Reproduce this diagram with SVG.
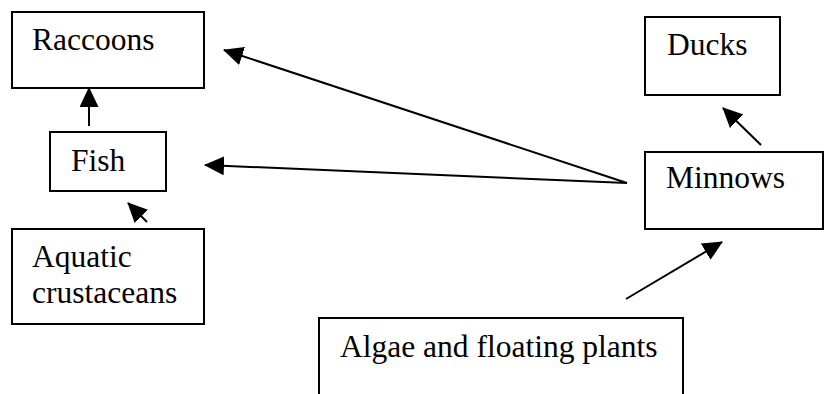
<svg xmlns="http://www.w3.org/2000/svg" width="828" height="394" viewBox="0 0 828 394">
<style>
.box{fill:#fff;stroke:#000;stroke-width:2}
.lbl{font-family:"Liberation Serif","Times New Roman",serif;font-size:31.5px;fill:#000}
.edge{stroke:#000;stroke-width:2;fill:none;marker-end:url(#ah)}
</style>
<defs>
<marker id="ah" markerUnits="userSpaceOnUse" markerWidth="20" markerHeight="19" refX="19" refY="9.5" orient="auto" viewBox="0 0 20 19">
<path d="M0,0 L20,9.5 L0,19 z" fill="#000"/>
</marker>
</defs>
<rect width="828" height="394" fill="#fff"/>
<g id="raccoons"><rect class="box" x="12" y="12" width="192" height="76"/><text class="lbl" x="32" y="50">Raccoons</text></g>
<g id="fish"><rect class="box" x="50" y="132" width="116" height="59"/><text class="lbl" x="71" y="171">Fish</text></g>
<g id="crustaceans"><rect class="box" x="12" y="229" width="192" height="95"/><text class="lbl" x="32" y="267">Aquatic</text><text class="lbl" x="32" y="303">crustaceans</text></g>
<g id="ducks"><rect class="box" x="645" y="17" width="135" height="78"/><text class="lbl" x="667" y="55">Ducks</text></g>
<g id="minnows"><rect class="box" x="645" y="152" width="178" height="77"/><text class="lbl" x="666" y="188">Minnows</text></g>
<g id="algae"><rect class="box" x="319" y="318" width="364" height="90"/><text class="lbl" x="340" y="357">Algae and floating plants</text></g>
<g id="connectors">
<line class="edge" x1="89" y1="126" x2="89" y2="88"/>
<line class="edge" x1="147" y1="222" x2="128" y2="203"/>
<line class="edge" x1="627" y1="183" x2="224" y2="50"/>
<line class="edge" x1="627" y1="183" x2="205" y2="165"/>
<line class="edge" x1="761" y1="145" x2="723" y2="108"/>
<line class="edge" x1="626" y1="299" x2="722" y2="242"/>
</g>
</svg>
